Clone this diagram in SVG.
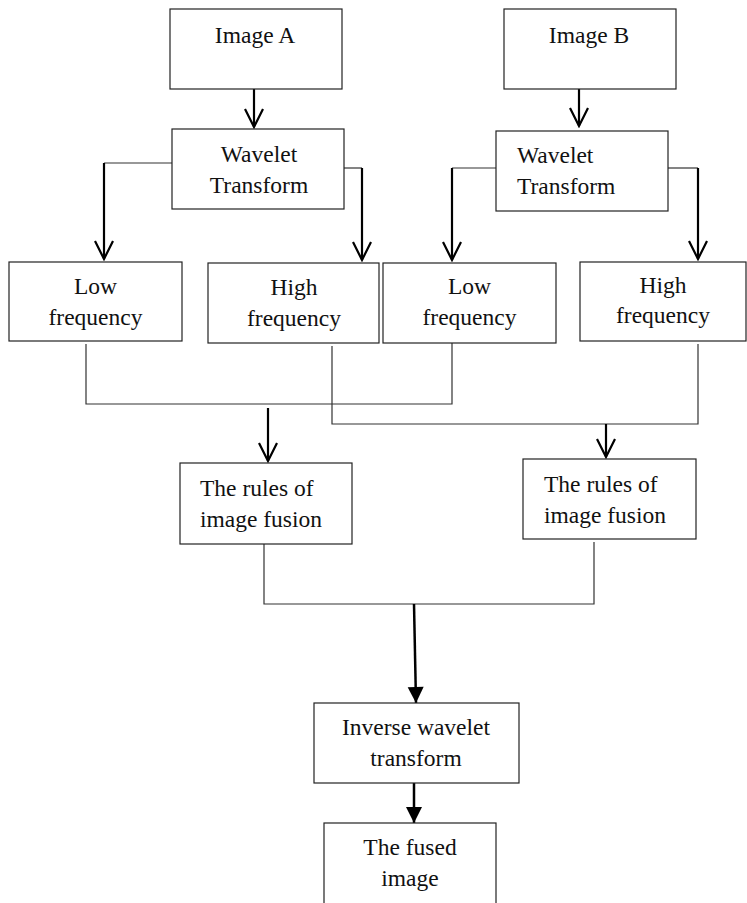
<svg xmlns="http://www.w3.org/2000/svg" width="747" height="903" viewBox="0 0 747 903">
<style>
.box{fill:#fff;stroke:#222;stroke-width:1.2}
.t{font-family:"Liberation Serif","Times New Roman",serif;font-size:23.5px;fill:#111}
.c{text-anchor:middle}
.thin{fill:none;stroke:#333;stroke-width:1.2}
.arr{fill:none;stroke:#000;stroke-width:2.2}
.arrf{fill:none;stroke:#000;stroke-width:2.5}
</style>
<defs>
<marker id="open" viewBox="-21 -11 23 22" refX="0" refY="0" markerWidth="23" markerHeight="22" markerUnits="userSpaceOnUse" orient="auto">
<path d="M-18,-9 L0,0 L-18,9" fill="none" stroke="#000" stroke-width="2.2"/>
</marker>
<marker id="fill" viewBox="-17 -9 18 18" refX="0" refY="0" markerWidth="18" markerHeight="18" markerUnits="userSpaceOnUse" orient="auto">
<path d="M-16,-8 L0,0 L-16,8 Z" fill="#000"/>
</marker>
</defs>
<g id="connectors">
<line class="arr" x1="254" y1="89" x2="254" y2="127" marker-end="url(#open)"/>
<line class="arr" x1="579" y1="89" x2="579" y2="126" marker-end="url(#open)"/>
<polyline class="thin" points="172,163 104,163"/>
<line class="arr" x1="104" y1="163" x2="104" y2="259" marker-end="url(#open)"/>
<polyline class="thin" points="344,168 362,168"/>
<line class="arr" x1="362" y1="168" x2="362" y2="260" marker-end="url(#open)"/>
<polyline class="thin" points="496,168 452,168"/>
<line class="arr" x1="452" y1="168" x2="452" y2="260" marker-end="url(#open)"/>
<polyline class="thin" points="668,168 698,168"/>
<line class="arr" x1="698" y1="168" x2="698" y2="259" marker-end="url(#open)"/>
<polyline class="thin" points="86,344 86,404 452,404 452,343"/>
<polyline class="thin" points="332,346 332,424 698,424 698,344"/>
<line class="arr" x1="268" y1="408" x2="268" y2="461" marker-end="url(#open)"/>
<line class="arr" x1="606" y1="424" x2="606" y2="457" marker-end="url(#open)"/>
<polyline class="thin" points="264,544 264,604 594,604 594,542"/>
<line class="arrf" x1="414" y1="604" x2="416" y2="703" marker-end="url(#fill)"/>
<line class="arrf" x1="414" y1="783" x2="414" y2="823" marker-end="url(#fill)"/>
</g>
<g id="imageA">
<rect class="box" x="170" y="9" width="172" height="80"/>
<text class="t c" x="255" y="43">Image A</text>
</g>
<g id="imageB">
<rect class="box" x="504" y="9" width="172" height="80"/>
<text class="t c" x="589" y="43">Image B</text>
</g>
<g id="waveletA">
<rect class="box" x="172" y="129" width="172" height="80"/>
<text class="t c" x="259" y="162">Wavelet</text>
<text class="t c" x="259" y="193">Transform</text>
</g>
<g id="waveletB">
<rect class="box" x="496" y="131" width="172" height="80"/>
<text class="t" x="517" y="163">Wavelet</text>
<text class="t" x="517" y="194">Transform</text>
</g>
<g id="lowA">
<rect class="box" x="9" y="262" width="173" height="79"/>
<text class="t c" x="95.5" y="294">Low</text>
<text class="t c" x="95.5" y="325">frequency</text>
</g>
<g id="highA">
<rect class="box" x="208" y="263" width="171" height="80"/>
<text class="t c" x="294" y="295">High</text>
<text class="t c" x="294" y="326">frequency</text>
</g>
<g id="lowB">
<rect class="box" x="383" y="263" width="173" height="80"/>
<text class="t c" x="469.5" y="294">Low</text>
<text class="t c" x="469.5" y="325">frequency</text>
</g>
<g id="highB">
<rect class="box" x="580" y="262" width="166" height="79"/>
<text class="t c" x="663" y="293">High</text>
<text class="t c" x="663" y="323">frequency</text>
</g>
<g id="rulesA">
<rect class="box" x="180" y="463" width="172" height="81"/>
<text class="t" x="200" y="496">The rules of</text>
<text class="t" x="200" y="527">image fusion</text>
</g>
<g id="rulesB">
<rect class="box" x="523" y="459" width="173" height="80"/>
<text class="t" x="544" y="492">The rules of</text>
<text class="t" x="544" y="523">image fusion</text>
</g>
<g id="inverse">
<rect class="box" x="314" y="703" width="205" height="80"/>
<text class="t c" x="416" y="735">Inverse wavelet</text>
<text class="t c" x="416" y="766">transform</text>
</g>
<g id="fused">
<rect class="box" x="324" y="823" width="172" height="90"/>
<text class="t c" x="410" y="855">The fused</text>
<text class="t c" x="410" y="886">image</text>
</g>
</svg>
